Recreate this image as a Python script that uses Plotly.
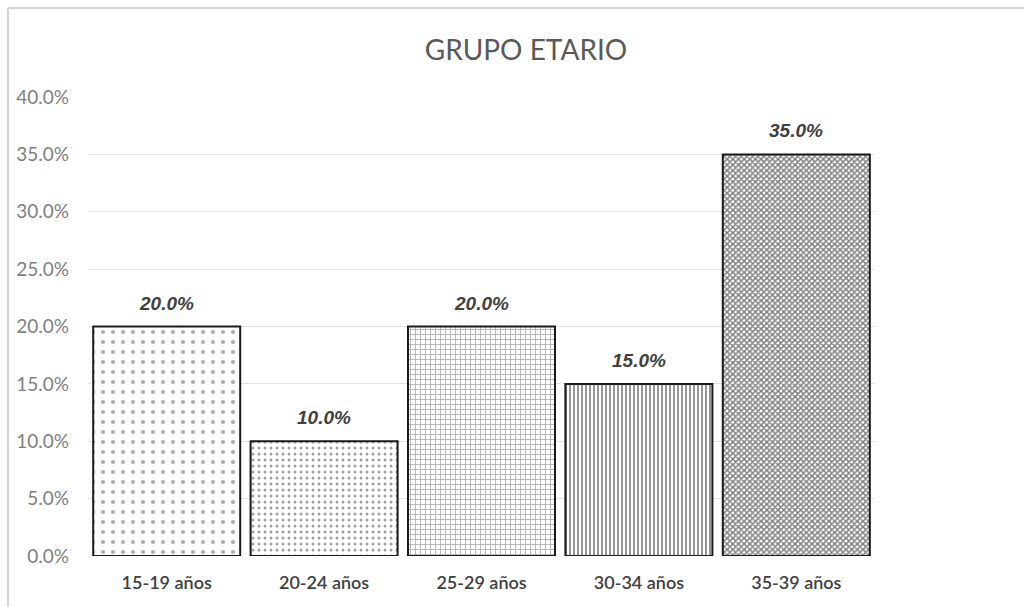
import plotly.graph_objects as go

categories = ["15-19 años", "20-24 años", "25-29 años", "30-34 años", "35-39 años"]
values = [0.20, 0.10, 0.20, 0.15, 0.35]
value_labels = ["20.0%", "10.0%", "20.0%", "15.0%", "35.0%"]
y_ticks = [0.0, 0.05, 0.10, 0.15, 0.20, 0.25, 0.30, 0.35, 0.40]
title_text = "GRUPO ETARIO"

pattern_shapes = [".", ".", "+", "|", "x"]
pattern_sizes = [10, 6, 5, 4, 4]
pattern_solidity = [0.14, 0.2, 0.3, 0.45, 0.6]
pattern_fg = ["#adadad", "#a0a0a0", "#aaaaaa", "#8a8a8a", "#7a7a7a"]

fig = go.Figure()
fig.add_trace(go.Bar(
    x=categories, y=values,
    marker=dict(
        color="white",
        line=dict(color="#1a1a1a", width=2),
        pattern=dict(shape=pattern_shapes, size=pattern_sizes,
                     solidity=pattern_solidity, fgcolor=pattern_fg,
                     bgcolor="white", fillmode="replace"),
    ),
    hoverinfo="skip",
))

for c, v, t in zip(categories, values, value_labels):
    fig.add_annotation(x=c, y=v, text=t, showarrow=False, yanchor="bottom", yshift=11,
                       font=dict(family="Liberation Sans", size=19, color="#404040",
                                 weight="bold", style="italic"))

W, H = 1024, 607
L, R, T, B = 88, 149, 97, 51
pw, ph = W - L - R, H - T - B
def px_x(x):
    return (x - L) / pw
def px_y(y):
    return (H - B - y) / ph

fig.add_shape(type="line", xref="paper", yref="paper", x0=px_x(8), x1=px_x(1024), y0=px_y(8), y1=px_y(8),
              line=dict(color="#d4d4d4", width=2))
fig.add_shape(type="line", xref="paper", yref="paper", x0=px_x(8), x1=px_x(8), y0=px_y(8), y1=px_y(607),
              line=dict(color="#d4d4d4", width=2))

fig.update_layout(
    width=W, height=H,
    margin=dict(l=L, r=R, t=T, b=B),
    paper_bgcolor="white", plot_bgcolor="white",
    bargap=0.066,
    showlegend=False,
    title=dict(text=title_text, x=526 / W, xanchor="center", y=1 - 50 / H, yanchor="middle",
               font=dict(family="Lato", size=28, color="#595959")),
    font=dict(family="Lato", color="#595959"),
    xaxis=dict(showgrid=False, showline=False, ticks="",
               tickfont=dict(family="Lato", size=18, color="#404040", weight=600),
               ticklabelstandoff=14),
    yaxis=dict(range=[0, 0.40], tickvals=y_ticks, tickformat=".1%", showgrid=True, gridcolor="#e3e3e3",
               gridwidth=1, zeroline=False, showline=False, ticks="",
               tickfont=dict(family="Lato", size=19, color="#808080"), ticklabelstandoff=18),
)

fig.write_html("out.html")
